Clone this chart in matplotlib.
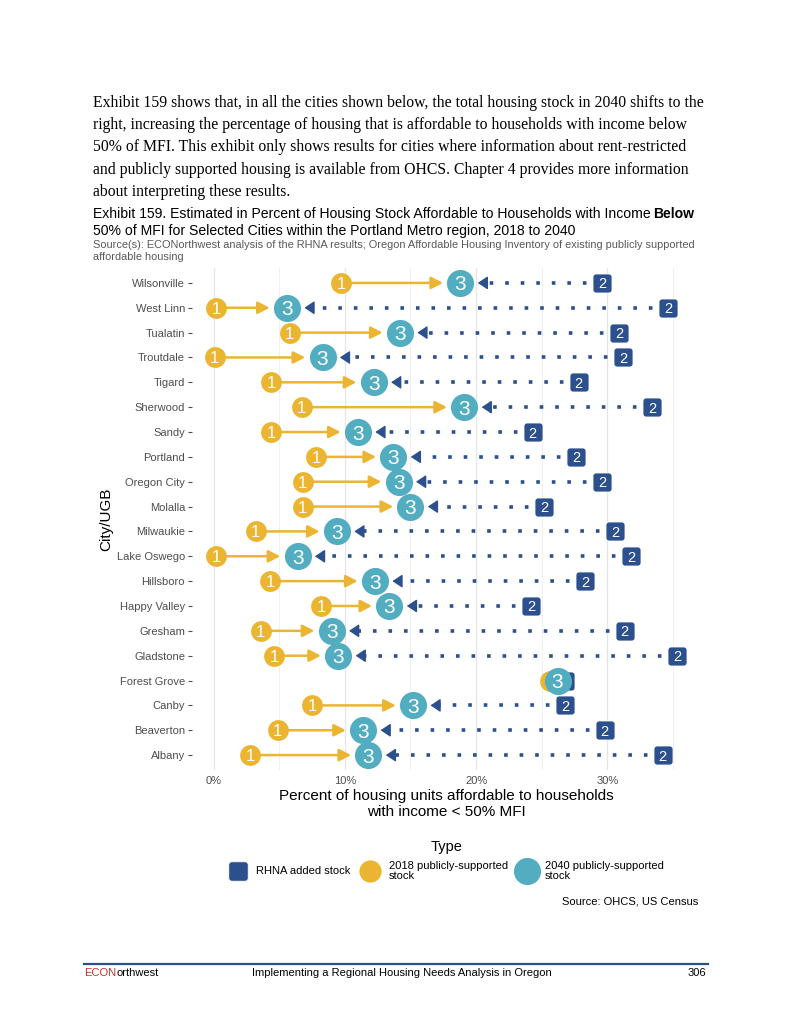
import matplotlib.pyplot as plt
from matplotlib.patches import FancyBboxPatch
from matplotlib.lines import Line2D

# values (percent of housing stock)
cities = ["Wilsonville", "West Linn", "Tualatin", "Troutdale", "Tigard", "Sherwood",
          "Sandy", "Portland", "Oregon City", "Molalla", "Milwaukie", "Lake Oswego",
          "Hillsboro", "Happy Valley", "Gresham", "Gladstone", "Forest Grove", "Canby",
          "Beaverton", "Albany"]
pct_2018 = [9.7, 0.2, 5.8, 0.1, 4.4, 6.7, 4.4, 7.8, 6.8, 6.8, 3.2, 0.2, 4.3, 8.2, 3.6,
            4.6, 25.6, 7.5, 4.9, 2.8]
pct_rhna = [29.6, 34.6, 30.9, 31.2, 27.8, 33.4, 24.3, 27.6, 29.6, 25.2, 30.6, 31.8,
            28.3, 24.2, 31.3, 35.3, 26.8, 26.8, 29.8, 34.2]
pct_2040 = [18.8, 5.6, 14.2, 8.3, 12.2, 19.1, 11.0, 13.7, 14.1, 15.0, 9.4, 6.4, 12.3,
            13.4, 9.0, 9.5, 26.2, 15.2, 11.4, 11.8]
x_ticks = [0, 10, 20, 30]
x_tick_labels = ["0%", "10%", "20%", "30%"]
legend_labels = ["RHNA added stock", "2018 publicly-supported\nstock",
                 "2040 publicly-supported\nstock"]

paragraph = [
    "Exhibit 159 shows that, in all the cities shown below, the total housing stock in 2040 shifts to the",
    "right, increasing the percentage of housing that is affordable to households with income below",
    "50% of MFI. This exhibit only shows results for cities where information about rent-restricted",
    "and publicly supported housing is available from OHCS. Chapter 4 provides more information",
    "about interpreting these results.",
]

YELLOW = "#EBB531"
TEAL = "#52ADC1"
NAVY = "#2C4F8D"
GRAY = "#4D4D4D"

plt.rcParams['font.family'] = ['Liberation Sans', 'DejaVu Sans']

W, H = 800, 1035
fig = plt.figure(figsize=(W / 100, H / 100), dpi=100)


def fx(px):
    return px / W


def fy(py):
    return 1 - py / H


# rounded square used for the "2" labels
rr = FancyBboxPatch((-0.5, -0.5), 1, 1, boxstyle="round,pad=0,rounding_size=0.16")
sq_path = rr.get_path()

ax = fig.add_axes([fx(192), fy(770), fx(700) - fx(192), fy(268) - fy(770)])
ax.set_xlim(-1.64, 37.05)
ax.set_ylim(len(cities) - 0.4, -0.6)
for s in ax.spines.values():
    s.set_visible(False)
ax.set_xticks(x_ticks)
ax.set_xticklabels(x_tick_labels)
ax.set_xticks([5, 15, 25, 35], minor=True)
ax.set_yticks(range(len(cities)))
ax.set_yticklabels(cities)
ax.tick_params(axis='x', which='both', length=0, labelsize=8, labelcolor=GRAY, pad=4)
ax.tick_params(axis='y', length=3, width=0.8, color=GRAY, labelsize=8, labelcolor=GRAY, pad=2)
ax.grid(axis='x', which='major', color='#E6E6E6', lw=0.9)
ax.grid(axis='x', which='minor', color='#EEEEEE', lw=0.6)
ax.set_axisbelow(True)

# pixels per data unit along x, to stop the dotted line at the arrow head
xl = ax.get_xlim()
pxu = ax.get_window_extent().width / (xl[1] - xl[0])
shrink_pt = 12.5
head_pt = 6.0
line_stop = (shrink_pt + head_pt) * 100 / 72 / pxu
# labels sitting under the big "3" circle are not visible
covered = 13.5 / pxu + 0.2

for i in range(len(cities)):
    x1, x2, x3 = pct_2018[i], pct_rhna[i], pct_2040[i]
    if x3 - x1 > 2:
        ax.annotate("", xy=(x3, i), xytext=(x1, i),
                    arrowprops=dict(arrowstyle="-|>,head_length=0.7,head_width=0.36",
                                    color=YELLOW, lw=1.8, shrinkA=0, shrinkB=shrink_pt),
                    zorder=2)
    if x2 - x3 > 2:
        ax.plot([x2, x3 + line_stop], [i, i], color=NAVY, lw=2.6,
                ls=(0, (1, 3.3)), dash_capstyle='butt', zorder=2)
        ax.annotate("", xy=(x3, i), xytext=(shrink_pt + head_pt, 0),
                    textcoords='offset points',
                    arrowprops=dict(arrowstyle="-|>,head_length=0.6,head_width=0.4",
                                    color=NAVY, lw=1, shrinkA=0, shrinkB=shrink_pt),
                    zorder=2.5)

ys = list(range(len(cities)))
ax.plot(pct_rhna, ys, ls='none', marker=sq_path, ms=13.7, mfc=NAVY, mec='white',
        mew=0.6, zorder=3)
ax.plot(pct_2018, ys, ls='none', marker='o', ms=15, mfc=YELLOW, mec='none', zorder=4)
for i in range(len(cities)):
    if abs(pct_rhna[i] - pct_2040[i]) > covered:
        ax.text(pct_rhna[i], i, "2", color='white', fontsize=10.5, ha='center',
                va='center_baseline', zorder=3.5)
    if abs(pct_2018[i] - pct_2040[i]) > covered:
        ax.text(pct_2018[i], i, "1", color='white', fontsize=12, ha='center',
                va='center_baseline', zorder=4.5)
ax.plot(pct_2040, ys, ls='none', marker='o', ms=19.5, mfc=TEAL, mec='none', zorder=5)
for i in range(len(cities)):
    ax.text(pct_2040[i], i, "3", color='white', fontsize=15, ha='center',
            va='center_baseline', zorder=5.5)

# axis titles
fig.text(fx(106), fy(519), "City/UGB", rotation=90, fontsize=11, ha='center', va='center')
fig.text(fx(446), fy(804), "Percent of housing units affordable to households\nwith income < 50% MFI",
         fontsize=11, ha='center', va='center', linespacing=1.1)

# legend
fig.text(fx(447), fy(847), "Type", fontsize=10.5, ha='center', va='center')
fig.add_artist(Line2D([fx(238)], [fy(871)], marker=sq_path, ms=14, mfc=NAVY, mec='white',
                      mew=0.6, transform=fig.transFigure))
fig.add_artist(Line2D([fx(370)], [fy(871)], marker='o', ms=16, mfc=YELLOW, mec='none',
                      transform=fig.transFigure))
fig.add_artist(Line2D([fx(527)], [fy(871)], marker='o', ms=19.5, mfc=TEAL, mec='none',
                      transform=fig.transFigure))
for lx, lab in zip([256, 389, 545], legend_labels):
    fig.text(fx(lx), fy(871), lab, fontsize=8, ha='left', va='center', linespacing=0.95)
fig.text(fx(698), fy(901), "Source: OHCS, US Census", fontsize=8, ha='right', va='center')

# paragraph above the exhibit
for k, line in enumerate(paragraph):
    fig.text(fx(93), fy(103 + 22.2 * k), line, family='Liberation Serif', fontsize=11.3,
             ha='left', va='center')

# exhibit title
t1 = fig.text(fx(93), fy(214),
              "Exhibit 159. Estimated in Percent of Housing Stock Affordable to Households with Income",
              fontsize=10.1, ha='left', va='center')
fig.text(fx(93), fy(231), "50% of MFI for Selected Cities within the Portland Metro region, 2018 to 2040",
         fontsize=10.1, ha='left', va='center')
fig.text(fx(93), fy(245),
         "Source(s): ECONorthwest analysis of the RHNA results; Oregon Affordable Housing Inventory of existing publicly supported",
         fontsize=7.95, color='#595959', ha='left', va='center')
fig.text(fx(93), fy(257), "affordable housing", fontsize=7.95, color='#595959',
         ha='left', va='center')

renderer = fig.canvas.get_renderer()
bb = t1.get_window_extent(renderer)
fig.text((bb.x1 + 3) / W, fy(214), "Below", fontsize=10.1,
         fontweight='bold', ha='left', va='center')

# footer
fig.add_artist(Line2D([fx(84), fx(708)], [fy(964), fy(964)], color=NAVY, lw=1.6,
                      transform=fig.transFigure))
f1 = fig.text(fx(84), fy(973), "ECON", fontsize=8, color='#C8312B',
              ha='left', va='center')
bb2 = f1.get_window_extent(renderer)
fig.text(bb2.x1 / W, fy(973), "orthwest", fontsize=8, ha='left', va='center')
fig.text(fx(252), fy(973), "Implementing a Regional Housing Needs Analysis in Oregon",
         fontsize=8, ha='left', va='center')
fig.text(fx(706), fy(973), "306", fontsize=8, ha='right', va='center')

fig.savefig("out.png", dpi=100)
